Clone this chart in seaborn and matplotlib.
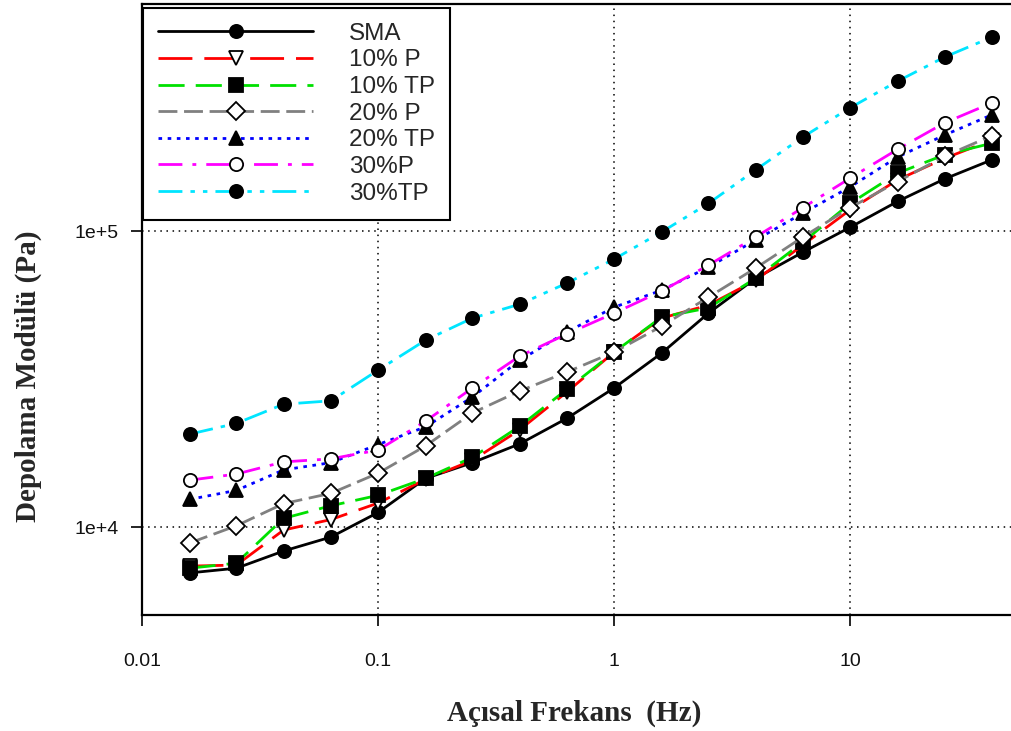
import numpy as np
import pandas as pd
import matplotlib
matplotlib.use("Agg")
import matplotlib.pyplot as plt
from matplotlib.ticker import FixedLocator, NullLocator, FixedFormatter
import seaborn as sns

# Angular frequency sweep (Hz)
freq = [0.0159, 0.0251, 0.0398, 0.0631, 0.1, 0.159, 0.251, 0.398, 0.631,
        1.0, 1.59, 2.51, 3.98, 6.31, 10.0, 15.9, 25.1, 39.8]

# Storage modulus (Pa) for each binder
sma = [7000, 7260, 8300, 9250, 11200, 14600, 16500, 19100, 23300,
       29500, 38700, 52800, 69300, 84900, 103000, 126000, 150000, 174000]
p10 = [7380, 7440, 9770, 10600, 12050, 14500, 16800, 21300, 28600,
       39000, 50800, 56200, 68200, 89800, 118000, 149000, 176000, 203000]
tp10 = [7260, 7550, 10700, 11800, 12800, 14600, 17200, 21900, 29200,
        39000, 51200, 55000, 69300, 91800, 124000, 157000, 181000, 198000]
p20 = [8830, 10100, 12000, 13000, 15200, 18800, 24300, 28800, 33400,
       39000, 47700, 59800, 75000, 95500, 120000, 147000, 179000, 210000]
tp20 = [12400, 13300, 15600, 16500, 19000, 21800, 27500, 36600, 45600,
        55300, 63100, 75500, 93300, 115000, 141000, 178000, 211000, 247000]
p30 = [14400, 15100, 16600, 17000, 18200, 22800, 29500, 37800, 44900,
       52800, 62700, 76700, 95500, 120000, 151000, 189000, 232000, 271000]
tp30 = [20600, 22400, 26000, 26700, 33900, 42800, 50800, 56600, 66700,
        80400, 99300, 124000, 161000, 208000, 261000, 321000, 387000, 452000]

labels = ["SMA", "10% P", "10% TP", "20% P", "20% TP", "30%P", "30%TP"]
series = [sma, p10, tp10, p20, tp20, p30, tp30]

x_ticks = [0.01, 0.1, 1, 10]
x_ticklabels = ["0.01", "0.1", "1", "10"]
y_ticks = [1e4, 1e5]
y_ticklabels = ["1e+4", "1e+5"]

# Line / marker appearance per binder
styles = {
    "SMA":    dict(color="black",   ls="-",                              marker="o", mfc="black"),
    "10% P":  dict(color="#ff0000", ls=(0, (12.2, 4.3)),                 marker="v", mfc="white"),
    "10% TP": dict(color="#00e000", ls=(0, (9.4, 4.0)),                  marker="s", mfc="black"),
    "20% P":  dict(color="#808080", ls=(0, (6.8, 2.4)),                  marker="D", mfc="white"),
    "20% TP": dict(color="#0000ff", ls=(0, (1.3, 2.0)),                  marker="^", mfc="black"),
    "30%P":   dict(color="#ff00ff", ls=(0, (8.6, 3.6, 1.4, 3.6)),        marker="o", mfc="white"),
    "30%TP":  dict(color="#00e5ff", ls=(0, (8.6, 2.9, 1.6, 2.9, 1.6, 2.9)), marker="o", mfc="black"),
}

df = pd.DataFrame({
    "freq": np.tile(freq, len(labels)),
    "modulus": np.concatenate(series),
    "binder": np.repeat(labels, len(freq)),
})

sns.set_theme(style="white")
plt.rcParams["font.family"] = ["Liberation Sans", "DejaVu Sans"]

fig = plt.figure(figsize=(10.11, 7.31), dpi=100)
ax = fig.add_axes([142 / 1011, (731 - 615) / 731, (1011 - 142) / 1011, (615 - 4) / 731])

for name in labels:
    st = styles[name]
    sub = df[df["binder"] == name]
    msize = 9.5 if st["marker"] in ("o", "s") else 10.5
    if st["marker"] == "D":
        msize = 9
    sns.lineplot(data=sub, x="freq", y="modulus", ax=ax, color=st["color"],
                 linestyle=st["ls"], linewidth=2.0, marker=st["marker"],
                 markersize=msize, markerfacecolor=st["mfc"],
                 markeredgecolor="black", markeredgewidth=1.3,
                 label=name, legend=False)

ax.set_xscale("log")
ax.set_yscale("log")
ax.set_xlim(0.01, 48)
ax.set_ylim(5045, 585000)

ax.xaxis.set_major_locator(FixedLocator(x_ticks))
ax.xaxis.set_major_formatter(FixedFormatter(x_ticklabels))
ax.xaxis.set_minor_locator(NullLocator())
ax.yaxis.set_major_locator(FixedLocator(y_ticks))
ax.yaxis.set_major_formatter(FixedFormatter(y_ticklabels))
ax.yaxis.set_minor_locator(NullLocator())

ax.grid(True, which="major", color="black", linestyle=(0, (1, 3)), linewidth=1.1)
ax.tick_params(axis="both", which="major", direction="out", length=8, width=1.2,
               color="black", labelsize=14, labelcolor="#111111",
               bottom=True, left=True, top=False, right=False)
ax.tick_params(axis="x", pad=19)
ax.tick_params(axis="y", pad=9)

for side in ("left", "bottom", "top"):
    ax.spines[side].set_visible(True)
    ax.spines[side].set_color("black")
    ax.spines[side].set_linewidth(1.6)
ax.spines["right"].set_visible(False)

lab_font = dict(family=["Liberation Serif", "DejaVu Serif"], weight="bold", size=21)
ax.set_xlabel("Açısal Frekans  (Hz)", fontdict=lab_font)
ax.set_ylabel("Depolama Modülü (Pa)", fontdict=lab_font)
# place axis titles (axes-fraction coordinates)
ax.xaxis.set_label_coords(0.497, -0.138)
ax.yaxis.set_label_coords(-0.115, 0.39)

handles, hlabels = ax.get_legend_handles_labels()
leg = ax.legend(handles, hlabels, loc="upper left", bbox_to_anchor=(0.001, 0.994),
                frameon=True, fancybox=False, shadow=False, fontsize=17.5,
                handlelength=6.4, handletextpad=1.45, labelspacing=0.19,
                borderpad=0.62, borderaxespad=0.0, numpoints=1)
leg.get_frame().set_edgecolor("black")
leg.get_frame().set_linewidth(1.5)
leg.get_frame().set_facecolor("white")
leg.get_frame().set_alpha(1.0)

fig.savefig("out.png", dpi=100, facecolor="white")
